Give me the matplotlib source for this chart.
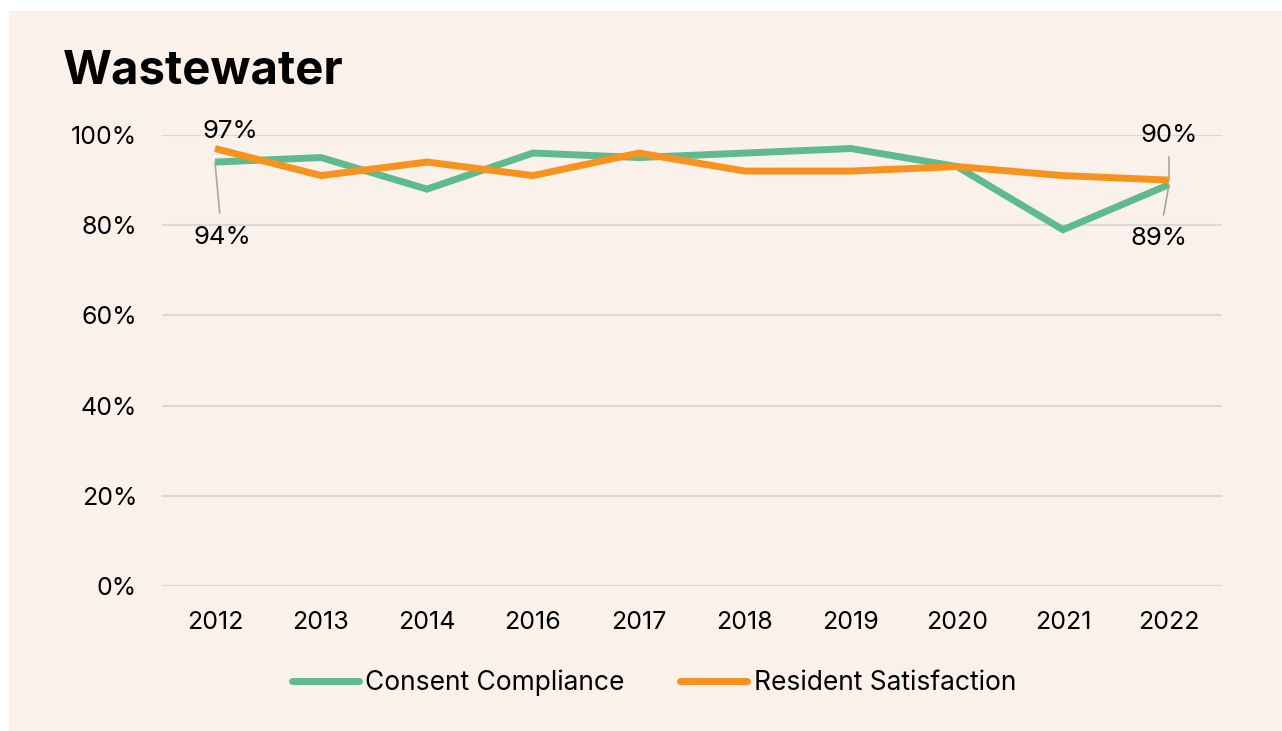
import matplotlib
matplotlib.use("Agg")
import matplotlib.pyplot as plt
from matplotlib.patches import Rectangle

years = ["2012", "2013", "2014", "2016", "2017", "2018", "2019", "2020", "2021", "2022"]
consent_compliance = [94, 95, 88, 96, 95, 96, 97, 93, 79, 89]
resident_satisfaction = [97, 91, 94, 91, 96, 92, 92, 93, 91, 90]
y_ticks = [0, 20, 40, 60, 80, 100]
y_tick_labels = ["0%", "20%", "40%", "60%", "80%", "100%"]

BG = "#FAF1EB"
GREEN = "#60BA8F"
ORANGE = "#F7921E"
GRID = "#D9D9D9"
LEAD = "#A6A6A6"

plt.rcParams['font.family'] = ['Inter', 'DejaVu Sans']
FS_TICK = 18
FS_LAB = 18.5
FS_LEG = 19

W, H = 1282, 731
fig = plt.figure(figsize=(W / 100, H / 100), dpi=100, facecolor="white")
fig.patches.append(Rectangle((9 / W, 0), 1 - 9 / W, 1 - 11 / H, transform=fig.transFigure,
                             facecolor=BG, edgecolor="none", zorder=-10))

ax = fig.add_axes([162 / W, 1 - 586 / H, (1222 - 162) / W, (586 - 135) / H])
ax.set_facecolor("none")
x = list(range(len(years)))
ax.plot(x, consent_compliance, color=GREEN, lw=5, solid_capstyle="butt", solid_joinstyle="miter",
        label="Consent Compliance", clip_on=False, zorder=3)
ax.plot(x, resident_satisfaction, color=ORANGE, lw=5, solid_capstyle="butt", solid_joinstyle="miter",
        label="Resident Satisfaction", clip_on=False, zorder=4)

ax.set_xlim(-0.5, len(years) - 0.5)
ax.set_ylim(0, 100)
ax.set_yticks(y_ticks)
ax.set_yticklabels(y_tick_labels)
ax.set_xticks(x)
ax.set_xticklabels(years)
ax.tick_params(axis="both", length=0, labelsize=FS_TICK, colors="black")
ax.tick_params(axis="y", pad=18)
ax.tick_params(axis="x", pad=18)
for s in ax.spines.values():
    s.set_visible(False)
ax.yaxis.grid(True, color=GRID, lw=1.5)
ax.set_axisbelow(True)

# data labels
ax.annotate(f"{resident_satisfaction[0]}%", (0, resident_satisfaction[0]), xytext=(11, 12),
            textcoords="offset points", ha="center", va="center", fontsize=FS_LAB)
ax.annotate(f"{consent_compliance[0]}%", (0, consent_compliance[0]), xytext=(5, -54),
            textcoords="offset points", ha="center", va="center", fontsize=FS_LAB,
            arrowprops=dict(arrowstyle="-", color=LEAD, lw=1.2, shrinkA=7, shrinkB=0))
ax.annotate(f"{resident_satisfaction[-1]}%", (9, resident_satisfaction[-1]), xytext=(0, 32),
            textcoords="offset points", ha="center", va="center", fontsize=FS_LAB,
            arrowprops=dict(arrowstyle="-", color=LEAD, lw=1.2, shrinkA=5, shrinkB=0))
ax.annotate(f"{consent_compliance[-1]}%", (9, consent_compliance[-1]), xytext=(-7, -39),
            textcoords="offset points", ha="center", va="center", fontsize=FS_LAB,
            arrowprops=dict(arrowstyle="-", color=LEAD, lw=1.2, shrinkA=7, shrinkB=0))

fig.text(63 / W, 1 - 72 / H, "Wastewater", fontsize=34, fontweight="bold", ha="left", va="center")

leg = fig.legend(loc="center", bbox_to_anchor=(654 / W, 1 - 683 / H), ncol=2, frameon=False,
                 fontsize=FS_LEG, handlelength=2.55, handletextpad=0.23, columnspacing=2.1)
for line in leg.get_lines():
    line.set_solid_capstyle("round")
    line.set_linewidth(5)

fig.savefig("out.png", dpi=100, facecolor="white")
